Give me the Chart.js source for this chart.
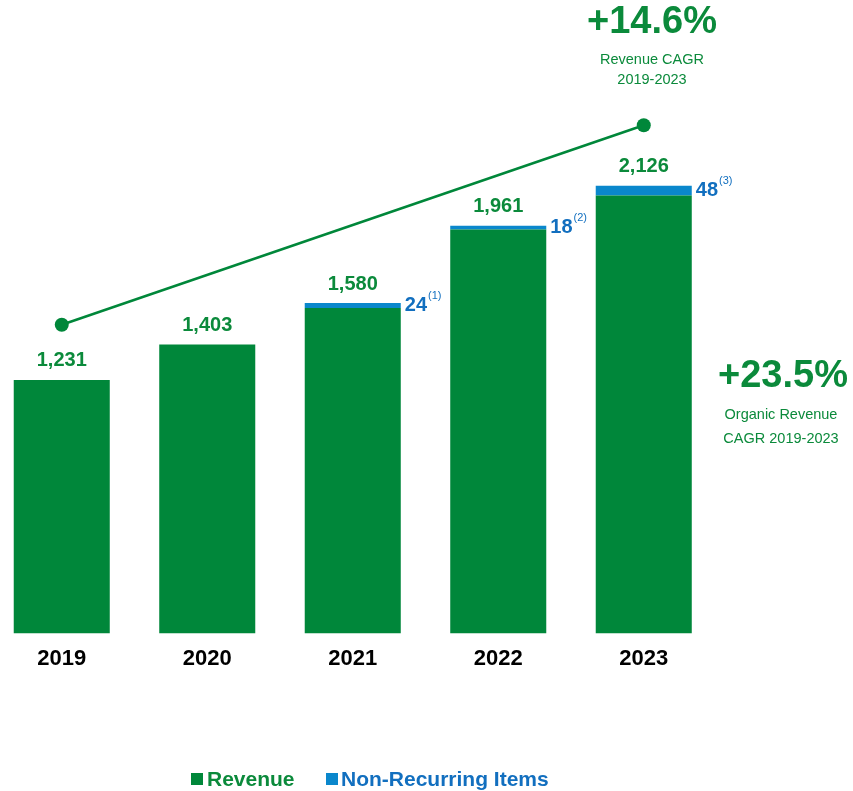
<!DOCTYPE html>
<html>
<head>
<meta charset="utf-8">
<script src="https://cdn.jsdelivr.net/npm/chart.js@4.4.1/dist/chart.umd.min.js"></script>
<style>
  html, body { margin: 0; padding: 0; background: #ffffff; overflow: hidden; }
  #wrap { position: absolute; left: -11px; top: 0; width: 864px; height: 791px; }
</style>
</head>
<body>
<div id="wrap"><canvas id="c" width="864" height="791"></canvas></div>
<script>
const years = ['2019', '2020', '2021', '2022', '2023'];
const revenue = [1231, 1403, 1580, 1961, 2126];
const nonRecurring = [0, 0, 24, 18, 48];
const notes = [null, null, '(1)', '(2)', '(3)'];
const cagrLine = [1499, null, null, null, 2467];
const revenueCagr = '+14.6%';
const revenueCagrLabel = ['Revenue CAGR', '2019-2023'];
const organicCagr = '+23.5%';
const organicCagrLabel = ['Organic Revenue', 'CAGR 2019-2023'];
const legendLabels = ['Revenue', 'Non-Recurring Items'];

const GREEN = '#00873a';
const BLUE = '#0a87cc';
const GREEN_TXT = '#0b8a3b';
const BLUE_TXT = '#126fbf';
const FONT = '"Liberation Sans", Arial, sans-serif';
const OX = 11; // canvas offset vs page

const fmt = v => v.toLocaleString('en-US');

const annotations = {
  id: 'annotations',
  afterDatasetsDraw(chart) {
    const ctx = chart.ctx;
    const xs = chart.scales.x, ys = chart.scales.y;
    ctx.save();
    ctx.textAlign = 'center';
    ctx.textBaseline = 'middle';
    revenue.forEach((v, i) => {
      const x = xs.getPixelForValue(i);
      const top = ys.getPixelForValue(v + nonRecurring[i]);
      ctx.fillStyle = GREEN_TXT;
      ctx.font = 'bold 20px ' + FONT;
      ctx.textAlign = 'center';
      ctx.fillText(fmt(v), x, top - 19);
      if (nonRecurring[i] > 0) {
        const meta = chart.getDatasetMeta(2).data[i];
        const right = meta.x + meta.width / 2;
        const midY = (ys.getPixelForValue(v) + ys.getPixelForValue(v + nonRecurring[i])) / 2;
        ctx.textAlign = 'left';
        ctx.fillStyle = BLUE_TXT;
        ctx.font = 'bold 20px ' + FONT;
        const t = String(nonRecurring[i]);
        ctx.fillText(t, right + 4, midY);
        const w = ctx.measureText(t).width;
        ctx.font = '11px ' + FONT;
        ctx.fillText(notes[i], right + 5 + w, midY - 10);
      }
    });
    ctx.textAlign = 'center';
    ctx.fillStyle = GREEN_TXT;
    ctx.font = 'bold 38px ' + FONT;
    ctx.fillText(revenueCagr, 652 + OX, 23);
    ctx.font = '14.5px ' + FONT;
    ctx.fillText(revenueCagrLabel[0], 652 + OX, 60);
    ctx.fillText(revenueCagrLabel[1], 652 + OX, 80);
    ctx.font = 'bold 38px ' + FONT;
    ctx.fillText(organicCagr, 783 + OX, 377);
    ctx.font = '14.5px ' + FONT;
    ctx.fillText(organicCagrLabel[0], 781 + OX, 415);
    ctx.fillText(organicCagrLabel[1], 781 + OX, 439);
    ctx.textAlign = 'left';
    ctx.font = 'bold 21px ' + FONT;
    ctx.fillStyle = GREEN;
    ctx.fillRect(191 + OX, 773, 12, 12);
    ctx.fillStyle = GREEN_TXT;
    ctx.fillText(legendLabels[0], 207 + OX, 780);
    ctx.fillStyle = BLUE;
    ctx.fillRect(326 + OX, 773, 12, 12);
    ctx.fillStyle = BLUE_TXT;
    ctx.fillText(legendLabels[1], 341 + OX, 780);
    ctx.restore();
  }
};

new Chart(document.getElementById('c'), {
  type: 'bar',
  data: {
    labels: years,
    datasets: [
      {
        type: 'line',
        label: 'CAGR',
        data: cagrLine,
        spanGaps: true,
        borderColor: GREEN,
        backgroundColor: GREEN,
        borderWidth: 2.5,
        pointRadius: 7,
        pointBackgroundColor: GREEN,
        pointBorderWidth: 0,
        stack: 'cagr',
        clip: false,
        order: 0
      },
      {
        label: legendLabels[0],
        data: revenue,
        backgroundColor: GREEN,
        borderWidth: 0,
        stack: 'rev',
        categoryPercentage: 1,
        barPercentage: 0.66,
        order: 1
      },
      {
        label: legendLabels[1],
        data: nonRecurring,
        backgroundColor: BLUE,
        borderWidth: 0,
        stack: 'rev',
        categoryPercentage: 1,
        barPercentage: 0.66,
        order: 1
      }
    ]
  },
  options: {
    responsive: false,
    animation: false,
    layout: { autoPadding: false, padding: { left: 0, right: 136.5, top: 0, bottom: 115 } },
    plugins: { legend: { display: false }, tooltip: { enabled: false } },
    scales: {
      x: {
        stacked: true,
        grid: { display: false },
        border: { display: false },
        ticks: {
          color: '#000000',
          padding: 4,
          font: { family: '"Liberation Sans Narrow", "Liberation Sans", Arial, sans-serif', size: 22, weight: 'bold' }
        }
      },
      y: {
        stacked: true,
        display: false,
        min: 0,
        max: 3075
      }
    }
  },
  plugins: [annotations]
});
</script>
</body>
</html>
